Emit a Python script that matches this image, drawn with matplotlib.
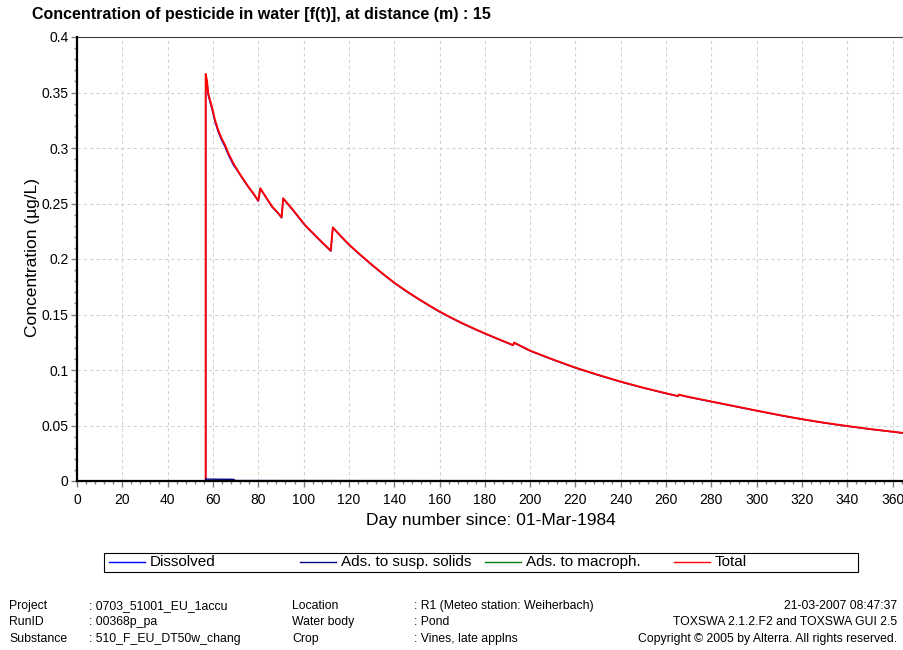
import numpy as np
import matplotlib
matplotlib.use("Agg")
import matplotlib.pyplot as plt
from matplotlib.lines import Line2D
from matplotlib.patches import Rectangle
from matplotlib.ticker import MultipleLocator

plt.rcParams['font.family'] = ['Liberation Sans', 'DejaVu Sans']

# ---- data -------------------------------------------------------------
days = [0, 56.8, 56.8, 57.4, 57.9, 58.7, 59.7, 60.9, 62.3, 63.8, 65.3, 66.8,
        69.0, 71.2, 73.4, 75.6, 77.8, 80.0,
        80.9, 83.0, 86.0, 88.5, 90.3,
        91.0, 95.0, 100.6, 107.9, 112.0,
        112.9, 116, 120, 125, 130, 135, 140, 145, 150, 155, 160, 165, 170,
        175, 180, 185, 190, 192.5,
        192.9, 200, 210, 220, 230, 240, 250, 260, 265.3,
        265.6, 270, 280, 290, 300, 310, 320, 330, 340, 350, 360, 365]
total = [0, 0, 0.3667, 0.3600, 0.3493, 0.3432, 0.3357, 0.3252, 0.3162, 0.3087,
         0.3027, 0.2952, 0.2862, 0.2787, 0.2718, 0.2652, 0.2592, 0.2525,
         0.2637, 0.2570, 0.2475, 0.2420, 0.2375,
         0.2547, 0.2450, 0.2306, 0.2156, 0.2075,
         0.2285, 0.2216, 0.2131, 0.2039, 0.1951, 0.1867, 0.1787, 0.1716,
         0.1650, 0.1587, 0.1527, 0.1473, 0.1422, 0.1375, 0.1330, 0.1287,
         0.1245, 0.1224,
         0.1247, 0.1174, 0.1095, 0.1021, 0.0956, 0.0895, 0.0840, 0.0790, 0.0765,
         0.0778, 0.0757, 0.0716, 0.0675, 0.0634, 0.0594, 0.0557, 0.0524,
         0.0495, 0.0468, 0.0444, 0.0432]

# suspended-solids fraction is tiny; macrophytes carry nothing
susp_days = [0, 56.8, 56.8, 62, 69, 70, 365]
susp_vals = [0, 0, 0.0017, 0.0016, 0.0015, 0.0004, 0.0001]
macro_days = [0, 365]
macro_vals = [0, 0]

days = np.array(days)
total = np.array(total)
dissolved = total - np.interp(days, susp_days, susp_vals)

series_names = ["Dissolved", "Ads. to susp. solids", "Ads. to macroph.", "Total"]
series_colors = ["#0000ff", "#000080", "#008000", "#ff0000"]

x_ticks = list(range(0, 361, 20))
y_ticks = [0, 0.05, 0.1, 0.15, 0.2, 0.25, 0.3, 0.35, 0.4]
y_tick_labels = ["0", "0.05", "0.1", "0.15", "0.2", "0.25", "0.3", "0.35", "0.4"]

title = "Concentration of pesticide in water [f(t)], at distance (m) : 15"
x_label = "Day number since: 01-Mar-1984"
y_label = "Concentration (µg/L)"

footer_left = [("Project", ": 0703_51001_EU_1accu"),
               ("RunID", ": 00368p_pa"),
               ("Substance", ": 510_F_EU_DT50w_chang")]
footer_mid = [("Location", ": R1 (Meteo station: Weiherbach)"),
              ("Water body", ": Pond"),
              ("Crop", ": Vines, late applns")]
footer_right = ["21-03-2007 08:47:37",
                "TOXSWA 2.1.2.F2 and TOXSWA GUI 2.5",
                "Copyright © 2005 by Alterra. All rights reserved."]

# ---- figure -----------------------------------------------------------
W, H = 904, 650
fig = plt.figure(figsize=(W / 100, H / 100), dpi=100)
fig.patch.set_facecolor("white")


def fx(px):
    return px / W


def fy(py):
    return 1 - py / H


ax = fig.add_axes([fx(77), fy(481), fx(827), 444 / H])
ax.set_xlim(0, 365)
ax.set_ylim(0, 0.4)

ax.plot(macro_days, macro_vals, color=series_colors[2], lw=1.0, zorder=1)
ax.plot(days, dissolved, color=series_colors[0], lw=1.0, zorder=3)
ax.plot(days, total, color=series_colors[3], lw=1.4, zorder=4)
ax.plot(susp_days, susp_vals, color=series_colors[1], lw=1.0, zorder=5)

ax.set_xticks(x_ticks)
ax.set_yticks(y_ticks)
ax.set_yticklabels(y_tick_labels)
ax.xaxis.set_minor_locator(MultipleLocator(4))
ax.yaxis.set_minor_locator(MultipleLocator(0.01))
ax.tick_params(which="major", direction="out", length=4, width=1,
               color="#808080", labelsize=10, pad=2, labelcolor="black")
ax.tick_params(which="minor", direction="out", length=2, width=1,
               color="#808080")
ax.tick_params(axis="x", which="major", pad=5)

ax.grid(True, which="major", color="#d0d0d0", lw=0.75,
        linestyle=(0, (3, 3)), zorder=0)
ax.set_axisbelow(True)

for side in ("left", "bottom"):
    ax.spines[side].set_linewidth(1.6)
    ax.spines[side].set_color("black")
    ax.spines[side].set_zorder(6)
ax.spines["top"].set_linewidth(0.8)
ax.spines["top"].set_color("#404040")
ax.spines["right"].set_visible(False)

fig.text(fx(32), fy(14), title, fontsize=11.5, fontweight="bold",
         ha="left", va="center")
fig.text(fx(491), fy(520), x_label, fontsize=12.5, ha="center", va="center")
fig.text(fx(33), fy(257), y_label, fontsize=12.5, ha="center", va="center",
         rotation=90)

# ---- legend box -------------------------------------------------------
fig.add_artist(Rectangle((fx(104), fy(572)), fx(754), 19 / H,
                         transform=fig.transFigure, fill=False,
                         edgecolor="black", lw=0.8))
legend_line_x = [109, 300, 485, 674]
for name, color, lx in zip(series_names, series_colors, legend_line_x):
    fig.add_artist(Line2D([fx(lx), fx(lx + 36)], [fy(562), fy(562)],
                          transform=fig.transFigure, color=color, lw=1.0))
    fig.text(fx(lx + 41), fy(562), name, fontsize=11, ha="left",
             va="center")

# ---- footer -----------------------------------------------------------
rows_y = [606, 622, 639]
for (lab, val), y in zip(footer_left, rows_y):
    fig.text(fx(9), fy(y), lab, fontsize=8.8, ha="left", va="center")
    fig.text(fx(89), fy(y), val, fontsize=8.8, ha="left", va="center")
for (lab, val), y in zip(footer_mid, rows_y):
    fig.text(fx(292), fy(y), lab, fontsize=8.8, ha="left", va="center")
    fig.text(fx(414), fy(y), val, fontsize=8.8, ha="left", va="center")
for txt, y in zip(footer_right, rows_y):
    fig.text(fx(897), fy(y), txt, fontsize=8.8, ha="right", va="center")

fig.savefig("out.png", dpi=100)
